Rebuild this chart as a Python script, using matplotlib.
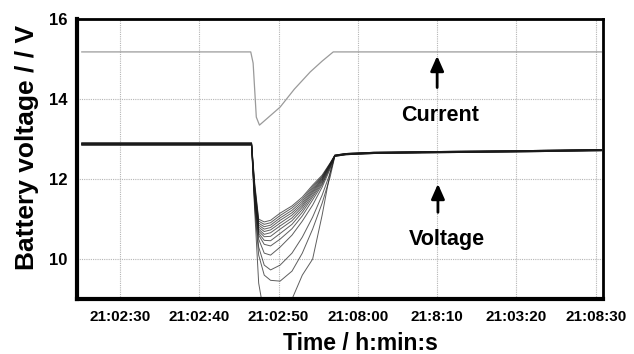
import numpy as np
import matplotlib
matplotlib.use("Agg")
import matplotlib.pyplot as plt

plt.rcParams['font.family'] = ['Liberation Sans', 'DejaVu Sans']

# time in seconds after 21:02:00 (ticks at 30..90)
tick_pos = [30, 40, 50, 60, 70, 80, 90]
tick_labels = ["21:02:30", "21:02:40", "21:02:50", "21:08:00", "21:8:10", "21:03:20", "21:08:30"]
y_ticks = [10, 12, 14, 16]

# current trace (scaled onto the voltage axis)
t_current = [25.2, 46.5, 46.8, 47.2, 47.6, 50.2, 52.0, 54.0, 55.5, 56.9, 90.7]
v_current = [15.18, 15.18, 14.9, 13.55, 13.35, 13.8, 14.25, 14.68, 14.95, 15.18, 15.18]

# voltage traces: flat part, dip part, recovery tail
t_flat = [25.2, 46.0]
t_dip = [46.6, 47.0, 47.5, 48.2, 49.0, 50.2, 51.7, 53.0, 54.3, 55.5, 56.5, 57.1]
t_tail = [58.5, 62.0, 70.0, 80.0, 90.7]
v_tail = [
    [12.64, 12.67, 12.69, 12.71, 12.74],
    [12.63, 12.66, 12.68, 12.70, 12.73],
    [12.62, 12.65, 12.67, 12.69, 12.72],
    [12.61, 12.64, 12.66, 12.68, 12.71],
]

v_start = [12.91, 12.90, 12.90, 12.89, 12.89, 12.88, 12.88, 12.87, 12.87, 12.86, 12.86, 12.85, 12.85]
v_dip = [
    [12.91, 11.9, 11.0, 10.93, 10.97, 11.15, 11.33, 11.55, 11.85, 12.10, 12.40, 12.60],
    [12.90, 11.85, 10.95, 10.87, 10.91, 11.09, 11.28, 11.50, 11.81, 12.07, 12.39, 12.59],
    [12.90, 11.8, 10.90, 10.81, 10.85, 11.03, 11.22, 11.45, 11.77, 12.05, 12.38, 12.58],
    [12.89, 11.75, 10.85, 10.75, 10.79, 10.97, 11.16, 11.40, 11.73, 12.02, 12.37, 12.57],
    [12.89, 11.7, 10.80, 10.69, 10.73, 10.90, 11.10, 11.35, 11.69, 12.00, 12.36, 12.60],
    [12.88, 11.65, 10.75, 10.62, 10.66, 10.83, 11.03, 11.30, 11.65, 11.97, 12.35, 12.59],
    [12.88, 11.6, 10.70, 10.56, 10.57, 10.75, 10.96, 11.24, 11.60, 11.94, 12.33, 12.58],
    [12.87, 11.55, 10.65, 10.47, 10.46, 10.64, 10.87, 11.17, 11.55, 11.90, 12.31, 12.57],
    [12.87, 11.5, 10.60, 10.37, 10.33, 10.50, 10.76, 11.08, 11.48, 11.86, 12.29, 12.60],
    [12.86, 11.45, 10.50, 10.15, 10.10, 10.30, 10.60, 10.95, 11.35, 11.80, 12.25, 12.59],
    [12.86, 11.4, 10.30, 9.85, 9.73, 9.85, 10.15, 10.55, 11.05, 11.60, 12.15, 12.58],
    [12.85, 11.3, 10.10, 9.60, 9.47, 9.45, 9.70, 10.15, 10.75, 11.40, 12.05, 12.57],
    [12.85, 11.2, 9.40, 8.60, 8.20, 8.30, 9.00, 9.60, 10.00, 11.10, 12.15, 12.58],
]

fig = plt.figure(figsize=(6.34, 3.54), dpi=100)
ax = fig.add_axes([0.1215, 0.155, 0.8295, 0.791])

ax.plot(t_current, v_current, color="#9a9a9a", lw=0.9)

for i, (v0, vd) in enumerate(zip(v_start, v_dip)):
    t = t_flat + t_dip + t_tail
    v = [v0, v0] + vd + v_tail[i % 4]
    ax.plot(t, v, color="#1a1a1a", lw=0.7, alpha=0.7)

ax.set_xlim(24.6, 90.9)
ax.set_ylim(9, 16)
ax.set_xticks(tick_pos)
ax.set_xticklabels(tick_labels)
ax.set_yticks(y_ticks)
ax.tick_params(length=0, labelsize=11)
ax.tick_params(axis="x", pad=8)
ax.tick_params(axis="y", pad=7, labelsize=12)
for lab in ax.get_xticklabels() + ax.get_yticklabels():
    lab.set_fontweight("bold")
ax.grid(True, color="#b5b5b5", ls=(0, (1, 1)), lw=0.8)

for side in ["top", "right"]:
    ax.spines[side].set_linewidth(2)
for side in ["left", "bottom"]:
    ax.spines[side].set_linewidth(3)

ax.set_xlabel("Time / h:min:s", fontsize=16.5, fontweight="bold")
ax.xaxis.set_label_coords(0.538, -0.118)
ax.set_ylabel("Battery voltage / / V", fontsize=19, fontweight="bold")
ax.yaxis.set_label_coords(-0.072, 0.543)

ax.annotate("", xy=(70.0, 15.15), xytext=(70.0, 14.22),
            arrowprops=dict(arrowstyle="-|>,head_length=0.9,head_width=0.4", color="black", lw=2))
ax.text(70.35, 13.6, "Current", ha="center", va="center", fontsize=15.5, fontweight="bold")
ax.annotate("", xy=(70.1, 11.95), xytext=(70.1, 11.1),
            arrowprops=dict(arrowstyle="-|>,head_length=0.9,head_width=0.4", color="black", lw=2))
ax.text(71.2, 10.48, "Voltage", ha="center", va="center", fontsize=15.5, fontweight="bold")

fig.savefig("out.png", dpi=100)
